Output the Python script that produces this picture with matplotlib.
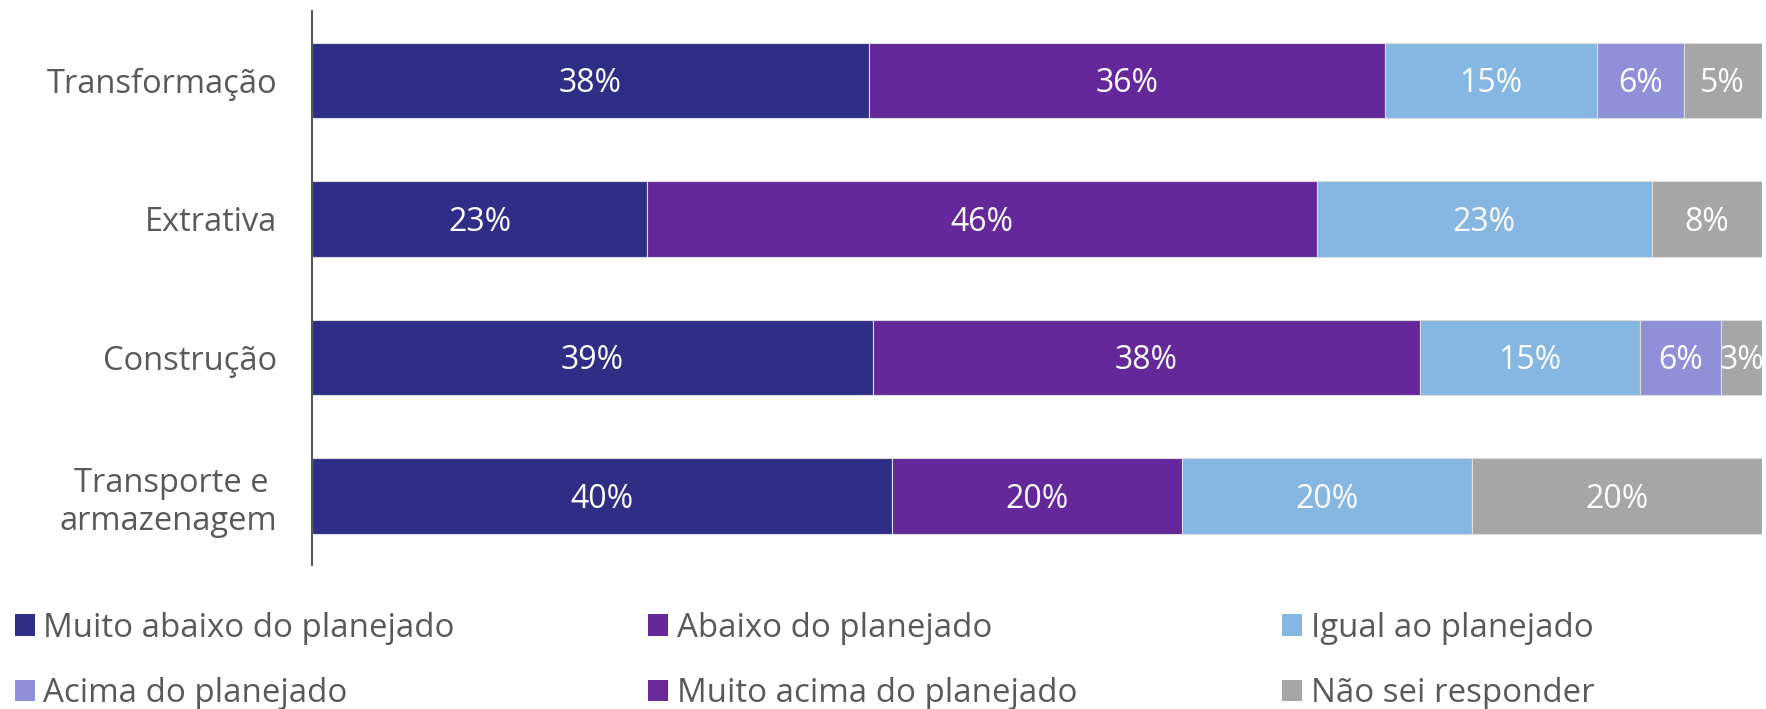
import matplotlib.pyplot as plt
from matplotlib.patches import Patch

plt.rcParams['font.family'] = ['Open Sans', 'DejaVu Sans']

# dados
setores = ['Transformação', 'Extrativa', 'Construção', 'Transporte e \narmazenagem']
series = ['Muito abaixo do planejado', 'Abaixo do planejado', 'Igual ao planejado',
          'Acima do planejado', 'Muito acima do planejado', 'Não sei responder']
muito_abaixo = [38.4, 23.1, 38.7, 40.0]
abaixo = [35.6, 46.2, 37.7, 20.0]
igual = [14.6, 23.1, 15.2, 20.0]
acima = [6.0, 0.0, 5.6, 0.0]
muito_acima = [0.0, 0.0, 0.0, 0.0]
nao_sei = [5.4, 7.6, 2.8, 20.0]

cores = ['#2E2E87', '#64289A', '#85B7E2', '#9090D9', '#6A2A9A', '#A6A6A6']
valores = [muito_abaixo, abaixo, igual, acima, muito_acima, nao_sei]

fig = plt.figure(figsize=(17.66, 7.09), dpi=100)
ax = fig.add_axes([0.1767, 0.203, 0.821, 0.7815])

y = list(range(len(setores)))
esq = [0.0] * len(setores)
for vals, cor in zip(valores, cores):
    ax.barh(y, vals, left=esq, height=0.545, color=cor, edgecolor='#dcdcdc', linewidth=0.8)
    for i, v in enumerate(vals):
        if v > 0:
            ax.annotate('%d%%' % round(v), (esq[i] + v / 2, i), xytext=(0, -2.5),
                        textcoords='offset points', ha='center', va='center',
                        color='white', fontsize=23)
    esq = [a + b for a, b in zip(esq, vals)]

ax.set_xlim(0, 100)
ax.set_ylim(3.5, -0.5)
ax.set_yticks(y)
ax.set_yticklabels(setores, fontsize=23.5, color='#595959')
ax.tick_params(axis='y', length=0, pad=25)
ax.set_xticks([])
for s in ['top', 'right', 'bottom']:
    ax.spines[s].set_visible(False)
ax.spines['left'].set_color('#595959')
ax.spines['left'].set_linewidth(1.5)

# legenda: 2 linhas x 3 colunas
xs = [0.0085, 0.367, 0.726]
ys = [0.114, 0.022]
for k in range(6):
    linha, col = k // 3, k % 3
    fig.legend([Patch(facecolor=cores[k])], [series[k]], loc='center left',
               bbox_to_anchor=(xs[col], ys[linha]), frameon=False, fontsize=23.8,
               labelcolor='#595959', handlelength=0.61, handleheight=0.61,
               handletextpad=0.25, borderpad=0, borderaxespad=0)

fig.savefig('out.png', dpi=100)
